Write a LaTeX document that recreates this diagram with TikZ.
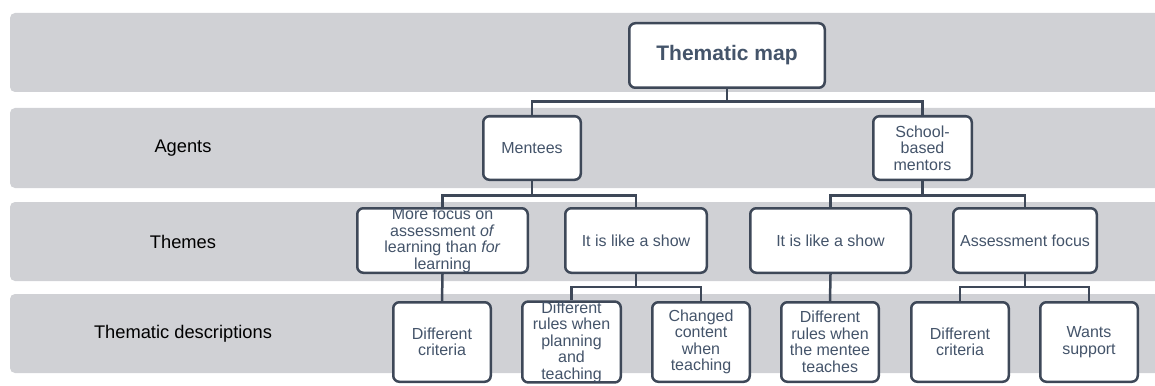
\documentclass[tikz,border=0pt]{standalone}
\usepackage{fontspec}
\setmainfont{Liberation Sans}
\definecolor{bandgray}{RGB}{208,209,213}
\definecolor{boxline}{RGB}{62,72,88}
\definecolor{boxtext}{RGB}{68,84,106}
\begin{document}
\begin{tikzpicture}[x=1pt,y=-1pt,
  band/.style={fill=bandgray, rounded corners=5pt},
  box/.style={draw=boxline, line width=2.5pt, fill=white, rounded corners=6pt,
    inner sep=0pt, align=center, text=boxtext, font=\fontsize{16}{16.5}\selectfont},
  tbox/.style={box, minimum height=64.5pt},
  dbox/.style={box, minimum width=97.5pt, minimum height=79.5pt},
  lbl/.style={font=\fontsize{18.3}{22}\selectfont, text=black},
  conn/.style={draw=boxline, line width=2.5pt}]
\useasboundingbox (0,0) rectangle (1155,385);
\clip (0,0) rectangle (1155,385);
% bands
\fill[band] (10,13) rectangle (1180,92);
\fill[band] (10,108) rectangle (1180,188);
\fill[band] (10,202) rectangle (1180,281);
\fill[band] (10,294) rectangle (1180,373);
% band labels
\node[lbl] (lagents) at (183,148) {Agents};
\node[lbl] (lthemes) at (183,242) {Themes};
\node[lbl] (ldesc) at (183,334) {Thematic descriptions};
% top
\node[box, minimum width=195.5pt, minimum height=64.5pt,
  font=\fontsize{21}{24}\selectfont\bfseries] (tm) at (727,55.5) {Thematic map};
% agents
\node[box, minimum width=97.5pt, minimum height=63.5pt] (ment) at (532,148) {Mentees};
\node[box, minimum width=98.5pt, minimum height=63.5pt] (sch) at (922.5,148) {School-\\based\\mentors};
% themes
\node[tbox, minimum width=170.5pt] (th1) at (442.5,240.5) {More focus on\\assessment \textit{of}\\learning than \textit{for}\\learning};
\node[tbox, minimum width=141.5pt] (th2) at (636,240.5) {It is like a show};
\node[tbox, minimum width=160.5pt] (th3) at (830.5,240.5) {It is like a show};
\node[tbox, minimum width=143.5pt] (th4) at (1025,240.5) {Assessment focus};
% descriptions
\node[dbox] (d1) at (442,342) {Different\\criteria};
\node[dbox, minimum width=98.5pt] (d2) at (571.5,342) {Different\\rules when\\planning\\and\\teaching};
\node[dbox] (d3) at (701,342) {Changed\\content\\when\\teaching};
\node[dbox] (d4) at (830,342) {Different\\rules when\\the mentee\\teaches};
\node[dbox] (d5) at (960,342) {Different\\criteria};
\node[dbox] (d6) at (1089,342) {Wants\\support};
% connector levels
\coordinate (r1) at (0,101.5);
\coordinate (r2) at (0,195.5);
\coordinate (r3) at (0,287);
% connectors
\draw[conn] (tm.south) -- (tm.south |- r1) -| (ment.north);
\draw[conn] (tm.south) -- (tm.south |- r1) -| (sch.north);
\draw[conn] (ment.south) -- (ment.south |- r2) -| (th1.north);
\draw[conn] (ment.south) -- (ment.south |- r2) -| (th2.north);
\draw[conn] (sch.south) -- (sch.south |- r2) -| (th3.north);
\draw[conn] (sch.south) -- (sch.south |- r2) -| (th4.north);
\draw[conn] (th1.south) -- (d1.north);
\draw[conn] (th2.south) -- (th2.south |- r3) -| (d2.north);
\draw[conn] (th2.south) -- (th2.south |- r3) -| (d3.north);
\draw[conn] (th3.south) -- (d4.north);
\draw[conn] (th4.south) -- (th4.south |- r3) -| (d5.north);
\draw[conn] (th4.south) -- (th4.south |- r3) -| (d6.north);
\end{tikzpicture}
\end{document}
